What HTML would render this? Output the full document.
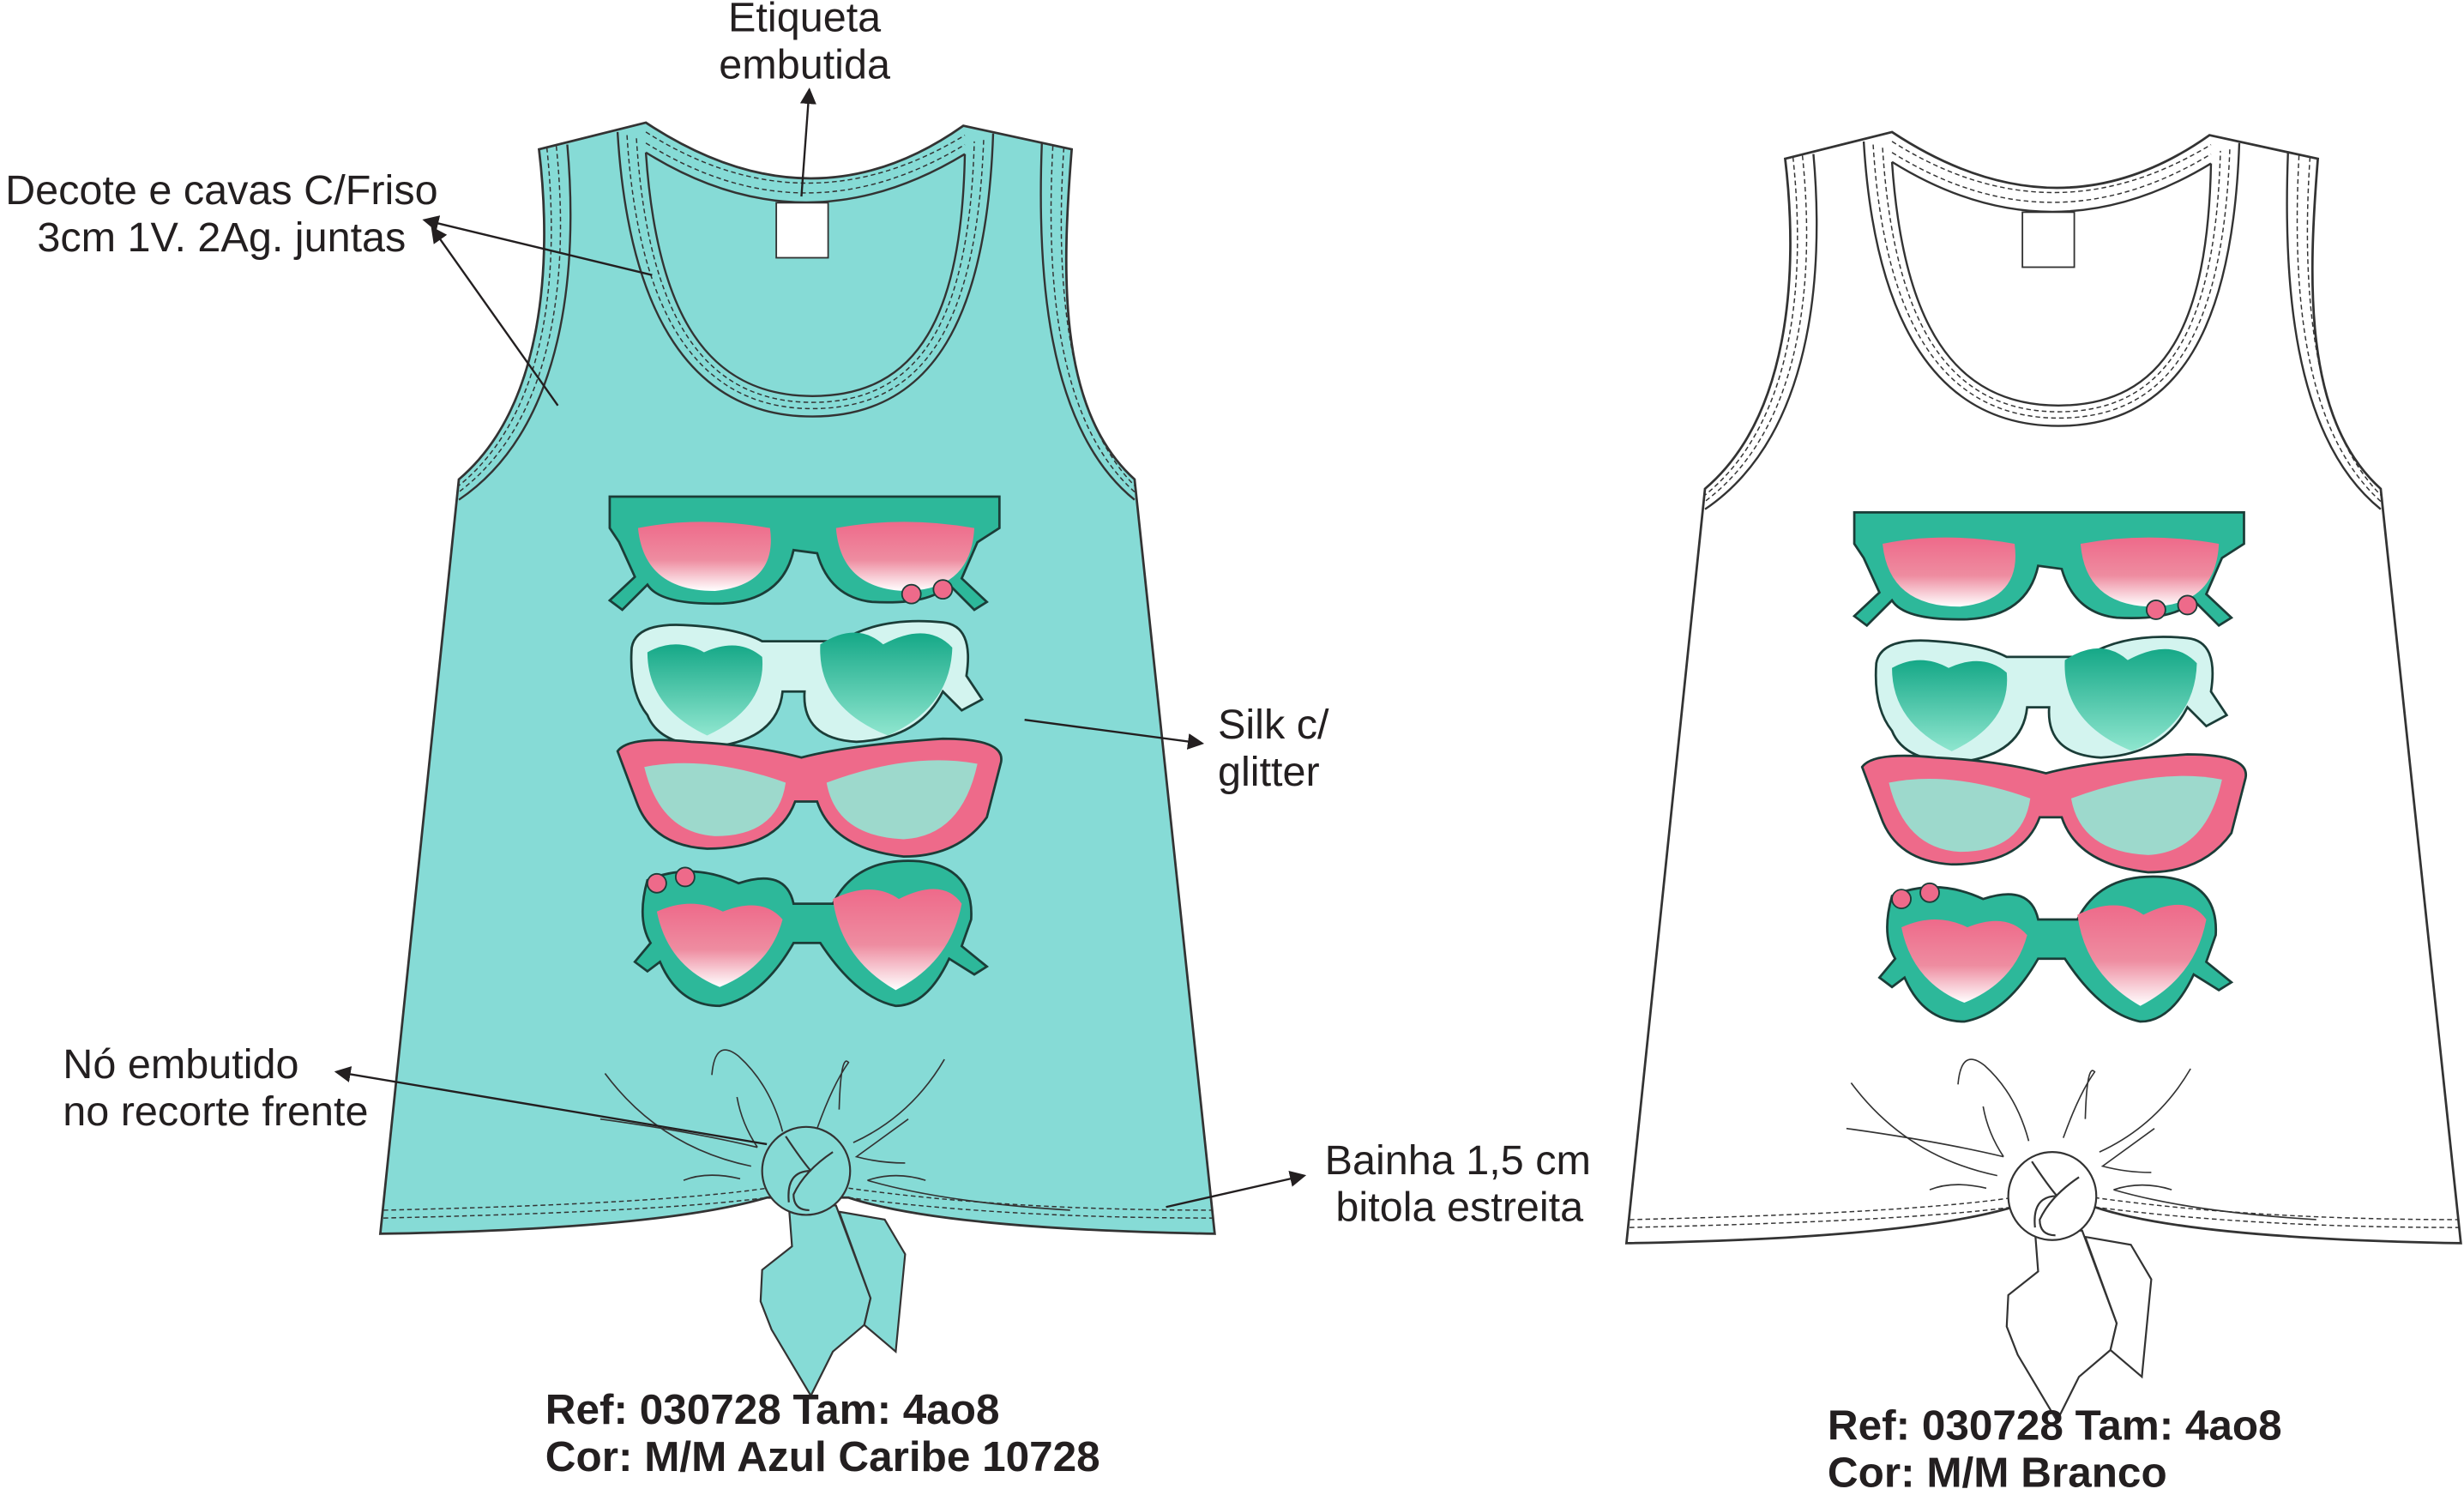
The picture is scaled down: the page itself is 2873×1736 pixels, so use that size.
<!DOCTYPE html>
<html><head><meta charset="utf-8"><style>
html,body{margin:0;padding:0;background:#fff;}
svg{display:block}
text{font-family:"Liberation Sans",sans-serif;fill:#231f20}
</style></head><body>
<svg width="2873" height="1736" viewBox="0 0 1568 947.4" preserveAspectRatio="none" xmlns="http://www.w3.org/2000/svg">
<defs>
<linearGradient id="pk" x1="0" y1="0" x2="0" y2="1"><stop offset="0" stop-color="#ee6a8a"/><stop offset="0.55" stop-color="#ee8ca0"/><stop offset="1" stop-color="#ffffff"/></linearGradient>
<linearGradient id="gr" x1="0" y1="0" x2="0" y2="1"><stop offset="0" stop-color="#15a887"/><stop offset="1" stop-color="#8fe6cf"/></linearGradient>
<marker id="ar" markerWidth="8" markerHeight="8" refX="7" refY="4" orient="auto"><path d="M0,0L8,4L0,8z" fill="#231f20"/></marker>
<g id="glasses">
 <path d="M388,316 L636,316 L636,336 L622,345 L612,368 L628,383 L620,388 L604,372 Q592,385 555,383 Q528,380 520,352 L505,350 Q498,382 460,384 Q420,385 412,372 L396,388 L388,382 L404,367 L394,345 L388,336 Z" fill="#2db89a" stroke="#1b3d38" stroke-width="1.5"/>
 <path d="M406,336 Q445,328 490,336 Q495,372 455,376 Q410,376 406,336Z" fill="url(#pk)"/>
 <path d="M532,336 Q575,328 620,336 Q618,376 575,376 Q535,374 532,336Z" fill="url(#pk)"/>
 <circle cx="580" cy="378" r="6" fill="#ee6a8a" stroke="#1b3d38"/><circle cx="600" cy="375" r="6" fill="#ee6a8a" stroke="#1b3d38"/>
 <path d="M402,412 Q405,395 440,398 Q470,400 485,408 L535,408 Q560,392 600,396 Q620,398 615,430 L625,445 L612,452 L600,440 Q585,470 545,472 Q510,470 512,440 L498,440 Q495,470 455,475 Q420,475 412,455 Q400,440 402,412Z" fill="#d3f4ef" stroke="#1b3d38" stroke-width="1.5"/>
 <path d="M412,415 Q430,405 448,415 Q470,405 485,418 Q488,450 450,468 Q412,450 412,415Z" fill="url(#gr)"/>
 <path d="M522,410 Q545,395 562,410 Q590,395 606,412 Q605,450 565,468 Q520,450 522,410Z" fill="url(#gr)"/>
 <path d="M393,478 Q400,468 440,472 Q480,474 510,482 Q540,474 600,470 Q640,470 637,485 L628,520 Q610,545 575,545 Q530,540 520,510 L506,510 Q495,540 450,540 Q415,538 405,510 Z" fill="#ee6a8a" stroke="#1b3d38" stroke-width="1.5"/>
 <path d="M410,488 Q450,480 500,498 Q495,532 455,532 Q420,530 410,488Z" fill="#9dd9cc"/>
 <path d="M526,498 Q580,478 622,486 Q612,532 575,534 Q532,532 526,498Z" fill="#9dd9cc"/>
 <path d="M412,560 Q440,548 470,562 Q500,552 505,575 L530,575 Q545,545 585,548 Q620,552 618,585 L612,602 L628,615 L620,620 L604,610 Q590,640 570,640 Q545,635 522,600 L505,600 Q485,635 458,640 Q432,640 420,612 L412,618 L404,612 L414,600 Q405,585 412,560Z" fill="#2db89a" stroke="#1b3d38" stroke-width="1.5"/>
 <path d="M418,580 Q440,570 460,580 Q485,570 498,585 Q490,615 458,628 Q425,615 418,580Z" fill="url(#pk)"/>
 <path d="M530,572 Q555,560 572,572 Q600,558 612,575 Q605,612 570,630 Q535,610 530,572Z" fill="url(#pk)"/>
 <circle cx="418" cy="562" r="6" fill="#ee6a8a" stroke="#1b3d38"/><circle cx="436" cy="558" r="6" fill="#ee6a8a" stroke="#1b3d38"/>
</g>
<g id="lines" fill="none" stroke="#333">
 <path d="M361,92 C368,170 360,272 292,318" stroke-width="1.3"/>
 <path d="M348,94 C356,170 350,262 292,309 M354,93 C362,170 355,266 292,313" stroke-width="0.8" stroke-dasharray="3,2"/>
 <path d="M663,91 C660,170 665,272 722,318" stroke-width="1.3"/>
 <path d="M677,94 C672,170 676,262 722,309 M670,93 C666,170 670,266 722,313" stroke-width="0.8" stroke-dasharray="3,2"/>
 <path d="M393,84 C400,200 440,265 517,265 C595,265 628,200 632,85" stroke-width="1.3"/>
 <path d="M411,97 C418,200 450,252 517,252 C585,252 612,200 614,98" stroke-width="1.3"/>
 <path d="M399,86 C406,200 444,260 517,260 C592,260 622,200 626,88 M405,88 C412,200 447,256 517,256 C588,256 617,200 620,90" stroke-width="0.8" stroke-dasharray="3,2"/>
 <path d="M411,97 Q512,160 614,98" stroke-width="1.3"/>
 <path d="M411,84 Q512,148 614,86 M411,91 Q512,154 614,92" stroke-width="0.8" stroke-dasharray="3,2"/>
 <path d="M244,770 Q420,766 488,756 M540,756 Q640,770 772,770 M244,775 Q420,771 488,762 M540,762 Q640,775 772,775" stroke-width="0.8" stroke-dasharray="3,2"/>
 <path d="M385,683 Q420,730 478,742 M382,712 Q440,720 482,730 M453,684 Q455,660 470,672 Q490,690 498,720 M469,698 Q472,715 482,730 M534,706 Q535,670 540,676 Q530,690 520,718 M601,674 Q580,710 543,727 M578,712 Q560,725 545,736 Q560,740 576,740 M435,751 Q450,745 471,750 M589,751 Q570,745 552,751 M552,751 Q600,765 681,770" stroke-width="0.9"/>
</g>
<g id="knot" stroke="#333" stroke-width="1.2">
 <path d="M502,767 L504,793 L485,808 L484,828 L491,846 L516,888 L530,860 L550,843 L554,826 L532,767Z"/>
 <path d="M534,771 L563,776 L576,798 L570,860 L550,843 L554,826 Z"/>
 <circle cx="513" cy="745" r="28"/>
 <path d="M500,723 Q510,738 516,745 M530,733 Q512,745 505,760 Q505,770 515,770 M516,745 Q500,745 502,765" fill="none"/>
</g>
</defs>

<!-- teal tank -->
<path d="M343,95 L411,78 Q517,148 613,80 L682,95 C676,170 672,260 722,305 L773,785 Q600,782 540,762 L488,762 Q420,782 242,785 L292,305 C345,260 352,170 343,95 Z" fill="#86dbd6" stroke="#333" stroke-width="1.5"/>
<use href="#lines"/>
<rect x="494" y="129" width="33" height="35" fill="#fff" stroke="#333"/>
<use href="#knot" fill="#86dbd6"/>
<use href="#glasses"/>

<!-- white tank -->
<g transform="translate(793,6)">
<path d="M343,95 L411,78 Q517,148 613,80 L682,95 C676,170 672,260 722,305 L773,785 Q600,782 540,762 L488,762 Q420,782 242,785 L292,305 C345,260 352,170 343,95 Z" fill="#fff" stroke="#333" stroke-width="1.5"/>
<use href="#lines"/>
<rect x="494" y="129" width="33" height="35" fill="#fff" stroke="#333"/>
<use href="#knot" fill="#fff" transform="translate(0,10)"/>
</g>
<use href="#glasses" transform="translate(792,10)"/>

<!-- labels -->
<g font-size="26.5">
<text x="512" y="20" text-anchor="middle">Etiqueta</text>
<text x="512" y="50" text-anchor="middle">embutida</text>
<text x="141" y="130" text-anchor="middle">Decote e cavas C/Friso</text>
<text x="141" y="160" text-anchor="middle">3cm 1V. 2Ag. juntas</text>
<text x="775" y="470">Silk c/</text>
<text x="775" y="500">glitter</text>
<text x="40" y="686">Nó embutido</text>
<text x="40" y="716">no recorte frente</text>
<text x="843" y="747">Bainha 1,5 cm</text>
<text x="850" y="777">bitola estreita</text>
</g>
<g font-size="27" font-weight="bold">
<text x="347" y="906">Ref: 030728 Tam: 4ao8</text>
<text x="347" y="936">Cor: M/M Azul Caribe 10728</text>
<text x="1163" y="916">Ref: 030728 Tam: 4ao8</text>
<text x="1163" y="946">Cor: M/M Branco</text>
</g>
<g stroke="#231f20" stroke-width="1.3" fill="none" marker-end="url(#ar)">
<line x1="510" y1="125" x2="515" y2="57"/>
<line x1="415" y1="175" x2="270" y2="140"/>
<line x1="355" y1="258" x2="275" y2="145"/>
<line x1="652" y1="458" x2="765" y2="473"/>
<line x1="488" y1="728" x2="214" y2="682"/>
<line x1="742" y1="768" x2="830" y2="748"/>
</g>
</svg>
</body></html>
